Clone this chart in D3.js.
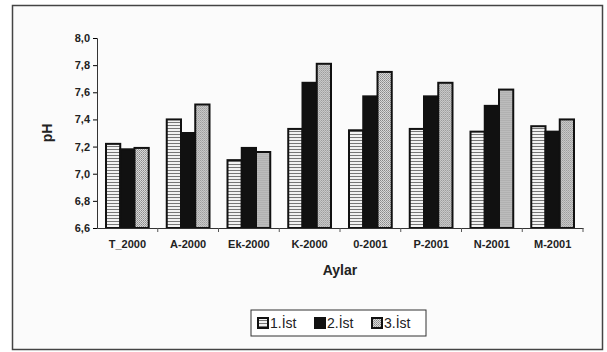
<!DOCTYPE html>
<html>
<head>
<meta charset="utf-8">
<script src="https://cdn.jsdelivr.net/npm/d3@7"></script>
<style>
  body { margin: 0; background: #fff; }
  text { font-family: "Liberation Sans", Arial, sans-serif; fill: #222; }
</style>
</head>
<body>
<div id="chart"></div>
<script>
const months = ["T_2000", "A-2000", "Ek-2000", "K-2000", "0-2001", "P-2001", "N-2001", "M-2001"];
const seriesNames = ["1.İst", "2.İst", "3.İst"];
const ist1 = [7.22, 7.40, 7.10, 7.33, 7.32, 7.33, 7.31, 7.35];
const ist2 = [7.18, 7.30, 7.19, 7.67, 7.57, 7.57, 7.50, 7.31];
const ist3 = [7.19, 7.51, 7.16, 7.81, 7.75, 7.67, 7.62, 7.40];
const yTicks = [6.6, 6.8, 7.0, 7.2, 7.4, 7.6, 7.8, 8.0];

const W = 607, H = 352;
const svg = d3.select("#chart").append("svg").attr("width", W).attr("height", H);

const defs = svg.append("defs");
// stripes for 1.Ist
const p1 = defs.append("pattern").attr("id", "stripes")
  .attr("patternUnits", "userSpaceOnUse").attr("width", 4).attr("height", 3);
p1.append("rect").attr("width", 4).attr("height", 3).attr("fill", "#f2f2f2");
p1.append("rect").attr("y", 2).attr("width", 4).attr("height", 1).attr("fill", "#777");
// dots for 3.Ist
const p3 = defs.append("pattern").attr("id", "dots")
  .attr("patternUnits", "userSpaceOnUse").attr("width", 2).attr("height", 2);
p3.append("rect").attr("width", 2).attr("height", 2).attr("fill", "#d8d8d8");
p3.append("rect").attr("width", 1).attr("height", 1).attr("fill", "#8a8a8a");
p3.append("rect").attr("x", 1).attr("y", 1).attr("width", 1).attr("height", 1).attr("fill", "#a0a0a0");

const fills = ["url(#stripes)", "#111", "url(#dots)"];

// outer frame
svg.append("rect").attr("x", 12.5).attr("y", 5.5).attr("width", 590).attr("height", 344)
  .attr("fill", "#fbfbfb").attr("stroke", "#444").attr("stroke-width", 1.5);

const margin = { left: 97, right: 24, top: 38, bottom: 124 };
const x = d3.scaleBand().domain(months).range([margin.left, W - margin.right]);
const y = d3.scaleLinear().domain([6.6, 8.0]).range([H - margin.bottom, margin.top]);
const xs = d3.scaleBand().domain(d3.range(3)).range([9, x.bandwidth() - 9]).padding(0);

const rows = months.map((m, i) => ({ m, v: [ist1[i], ist2[i], ist3[i]] }));

const groups = svg.append("g").selectAll("g").data(rows).join("g")
  .attr("transform", d => `translate(${x(d.m)},0)`);
groups.selectAll("rect").data(d => d.v).join("rect")
  .attr("x", (d, i) => xs(i))
  .attr("y", d => y(d))
  .attr("width", xs.bandwidth())
  .attr("height", d => y(6.6) - y(d))
  .attr("fill", (d, i) => fills[i])
  .attr("stroke", "#111").attr("stroke-width", 2);

const yAxis = svg.append("g").attr("transform", `translate(${margin.left},0)`)
  .call(d3.axisLeft(y).tickValues(yTicks).tickSize(4)
    .tickFormat(d => d3.format(".1f")(d).replace(".", ",")));
yAxis.select(".domain").attr("stroke", "#333");
yAxis.selectAll("text").attr("font-size", 11).attr("font-weight", "bold").attr("fill", "#333");

const xAxis = svg.append("g").attr("transform", `translate(0,${y(6.6)})`)
  .call(d3.axisBottom(x).tickSize(4).tickSizeOuter(0));
xAxis.selectAll(".tick line").attr("transform", `translate(${x.bandwidth() / 2},0)`).attr("stroke", "#555");
xAxis.select(".domain").attr("stroke", "#333");
xAxis.selectAll("text").attr("font-size", 11).attr("font-weight", "bold").attr("fill", "#333").attr("dy", "1.2em");

svg.append("text").attr("x", (margin.left + W - margin.right) / 2).attr("y", 275)
  .attr("text-anchor", "middle").attr("font-size", 14).attr("font-weight", "bold").text("Aylar");
svg.append("text").attr("transform", "translate(52,133) rotate(-90)")
  .attr("text-anchor", "middle").attr("font-size", 14).attr("font-weight", "bold").text("pH");

// legend
const lg = svg.append("g").attr("transform", "translate(251,310)");
lg.append("rect").attr("width", 175).attr("height", 26).attr("fill", "#fff").attr("stroke", "#333");
const items = lg.selectAll("g").data(seriesNames).join("g")
  .attr("transform", (d, i) => `translate(${7 + i * 57},8)`);
items.append("rect").attr("width", 10).attr("height", 10)
  .attr("fill", (d, i) => fills[i]).attr("stroke", "#111").attr("stroke-width", 2);
items.append("text").attr("x", 12).attr("y", 10).attr("font-size", 14).text(d => d);
</script>
</body>
</html>
